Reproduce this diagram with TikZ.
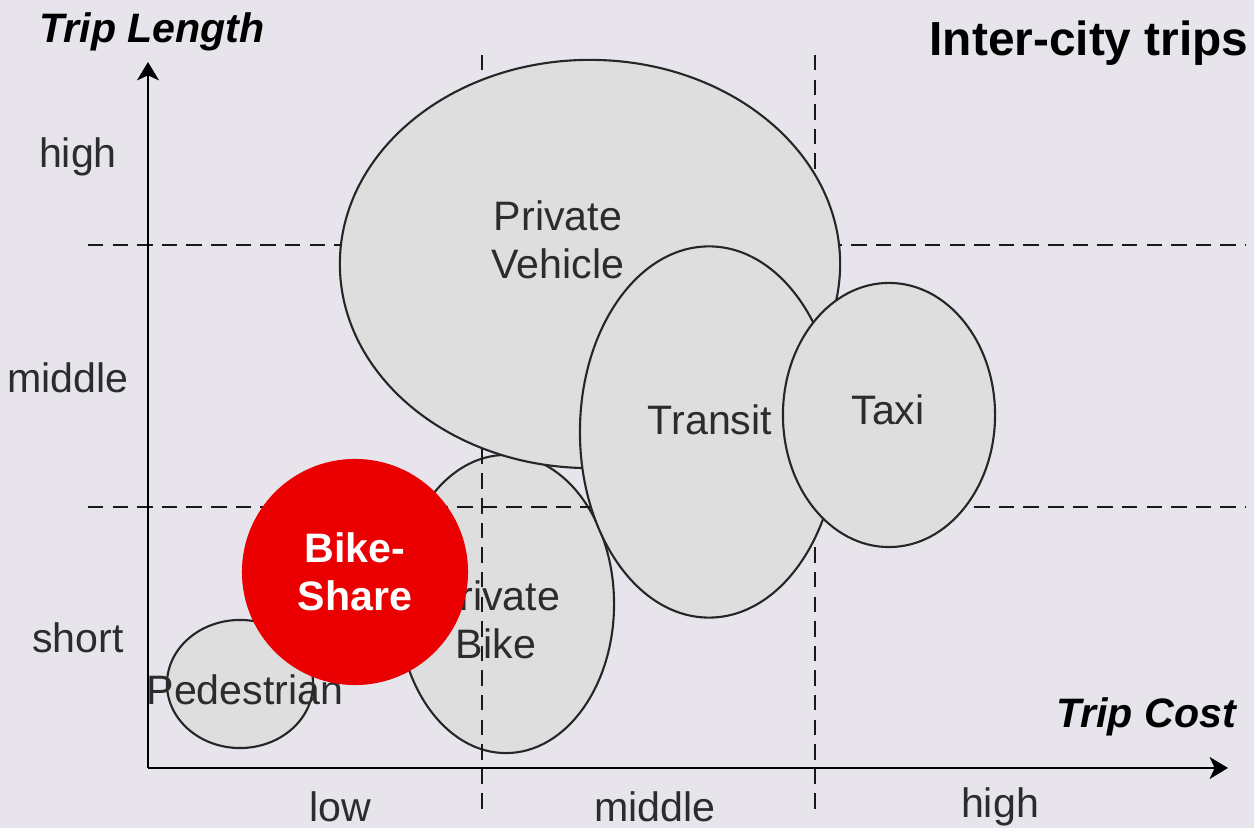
\documentclass[tikz,border=0pt]{standalone}
\usepackage{fontspec}
\setmainfont{Liberation Sans}
\usetikzlibrary{shapes.geometric,arrows.meta,positioning}
\definecolor{bggray}{HTML}{E7E5EB}
\definecolor{modegray}{HTML}{DEDEDF}
\definecolor{bikered}{HTML}{EA0000}
\definecolor{labelgray}{HTML}{2C2C2C}

\begin{document}
\begin{tikzpicture}[x=0.01cm, y=-0.01cm,
    txt/.style={font=\fontsize{11.7}{13.5}\selectfont, text=labelgray, align=center, inner sep=0pt},
    axistitle/.style={txt, font=\fontsize{11.7}{13.5}\selectfont\bfseries\itshape, text=black},
    tripmode/.style={ellipse, draw=black!85, line width=0.6pt, fill=modegray, inner sep=0pt, txt},
    divider/.style={dashed, dash pattern=on 4.4pt off 2.6pt, line width=0.75pt, black!90},
    axis/.style={line width=0.8pt, -{Stealth[length=5.2pt, width=6.2pt, inset=1.4pt]}}]
    \fill[bggray] (0,0) rectangle (1254,828);
    \useasboundingbox (0,0) rectangle (1254,828);

    % modes below the grid lines
    \node[tripmode, minimum width=1.46cm, minimum height=1.28cm] (ped) at (240,684) {};
    \node[txt] (pedtext) at (245,690) {Pedestrian};
    \node[tripmode, minimum width=2.16cm, minimum height=2.98cm] (pbike) at (506,604) {};
    \node[txt] (pbiketext) at (496,620) {Private\\Bike};

    % grid lines
    \coordinate (h1w) at (88,245);  \coordinate (h1e) at (1245,245);
    \coordinate (h2w) at (88,507);  \coordinate (h2e) at (1245,507);
    \coordinate (v1n) at (482,55);  \coordinate (v1s) at (482,810);
    \coordinate (v2n) at (815,55);  \coordinate (v2s) at (815,810);
    \draw[divider] (h1w) -- (h1e);
    \draw[divider] (h2w) -- (h2e);
    \draw[divider] (v1n) -- (v1s);
    \draw[divider] (v2n) -- (v2s);

    % modes above the grid lines
    \node[tripmode, minimum width=5cm, minimum height=4.08cm] (pveh) at (590,264) {};
    \node[txt] (pvehtext) at (558,240) {Private\\Vehicle};
    \node[tripmode, minimum width=2.58cm, minimum height=3.71cm] (transit) at (709,432) {};
    \node[txt] (transittext) at (710,420) {Transit};
    \node[tripmode, minimum width=2.12cm, minimum height=2.64cm] (taxi) at (889,415) {};
    \node[txt] (taxitext) at (888,410) {Taxi};
    \node[circle, fill=bikered, minimum size=2.26cm, inner sep=0pt, txt, text=white,
          font=\fontsize{11.7}{13.5}\selectfont\bfseries] (bshare) at (355,572) {Bike-\\Share};

    % axes
    \coordinate (origin) at (148,768);
    \coordinate (ytip) at (148,62);
    \coordinate (xtip) at (1228,768);
    \draw[axis] (origin) -- (ytip);
    \draw[axis] (origin) -- (xtip);

    \node[axistitle] (ytitle) at (152,32) {Trip Length};
    \node[axistitle] (xtitle) at (1146,717) {Trip Cost};
    \node[txt, font=\fontsize{13.6}{15}\selectfont\bfseries, text=black] (title) at (1089,43) {Inter-city trips};

    % length levels
    \node[txt] (lhigh) at (78,157) {high};
    \node[txt] (lmid) at (68,378) {middle};
    \node[txt] (lshort) at (78,638) {short};
    % cost levels
    \node[txt] (clow) at (340,807) {low};
    \node[txt] (cmid) at (655,807) {middle};
    \node[txt] (chigh) at (1000,807) {high};
\end{tikzpicture}
\end{document}
